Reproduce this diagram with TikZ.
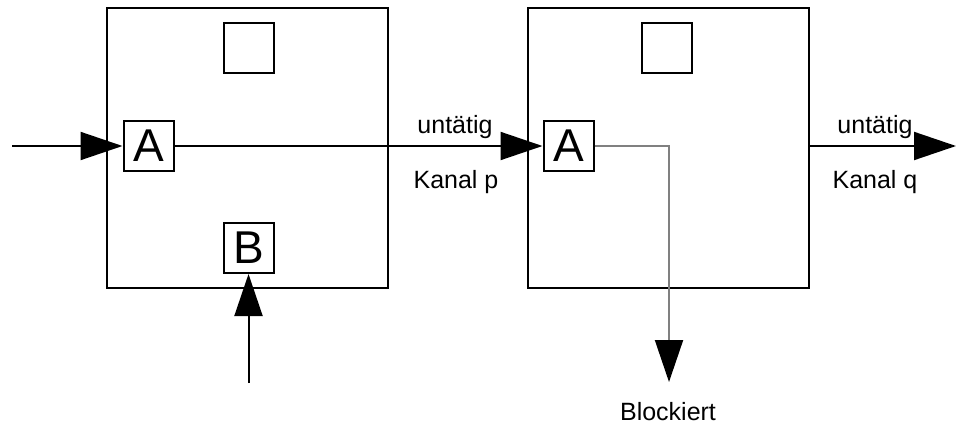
\documentclass[tikz,border=0pt]{standalone}
\usepackage{fontspec}
\setmainfont{Liberation Sans}
\usepackage{tikz}
\usetikzlibrary{arrows.meta}
\usetikzlibrary{positioning}
\tikzset{
  proc/.style={draw, line width=1pt, minimum width=140.5pt, minimum height=140pt, inner sep=0pt},
  port/.style={draw, line width=1pt, minimum size=25pt, inner sep=0pt, font=\fontsize{23}{23}\selectfont},
  lbl/.style={font=\fontsize{12.5}{14}\selectfont},
  bigtip/.style={-{Triangle[length=21pt,width=14pt]}, line width=1pt}
}

\begin{document}
\begin{tikzpicture}[x=0.5pt, y=0.5pt]
\useasboundingbox (0,0) rectangle (956,429);

% the two processes
\node[proc] (P1) at (247.5,281) {};
\node[proc] (P2) at (668,281) {};

\node[port] (S1) at (248.5,381) {};
\node[port] (S2) at (667,381) {};

\node[port] (A1) at (148.5,283) {A};
\node[port] (B1) at (248.5,181) {B};
\node[port] (A2) at (568.5,283) {A};

\coordinate (inA) at (12,283);
\coordinate (inB) at (248.5,46);
\coordinate (q0) at (808,283);
\coordinate (q1) at (956,283);
\coordinate (blk) at (669,47);

\draw[bigtip] (inA) -- (A1);
\draw[bigtip] (inB) -- (B1);
\draw[bigtip] (A1) -- (A2);
\draw[bigtip] (q0) -- (q1);
\draw[-{Triangle[length=21pt,width=14pt,black]}, line width=1pt, gray] (A2.east) -| (blk);

\node[lbl] (u1) at (455,302) {untätig};
\node[lbl] (k1) at (456,247) {Kanal p};
\node[lbl] (u2) at (875,302) {untätig};
\node[lbl] (k2) at (875,247) {Kanal q};
\node[lbl] (bl) at (668,17) {Blockiert};

\end{tikzpicture}
\end{document}
